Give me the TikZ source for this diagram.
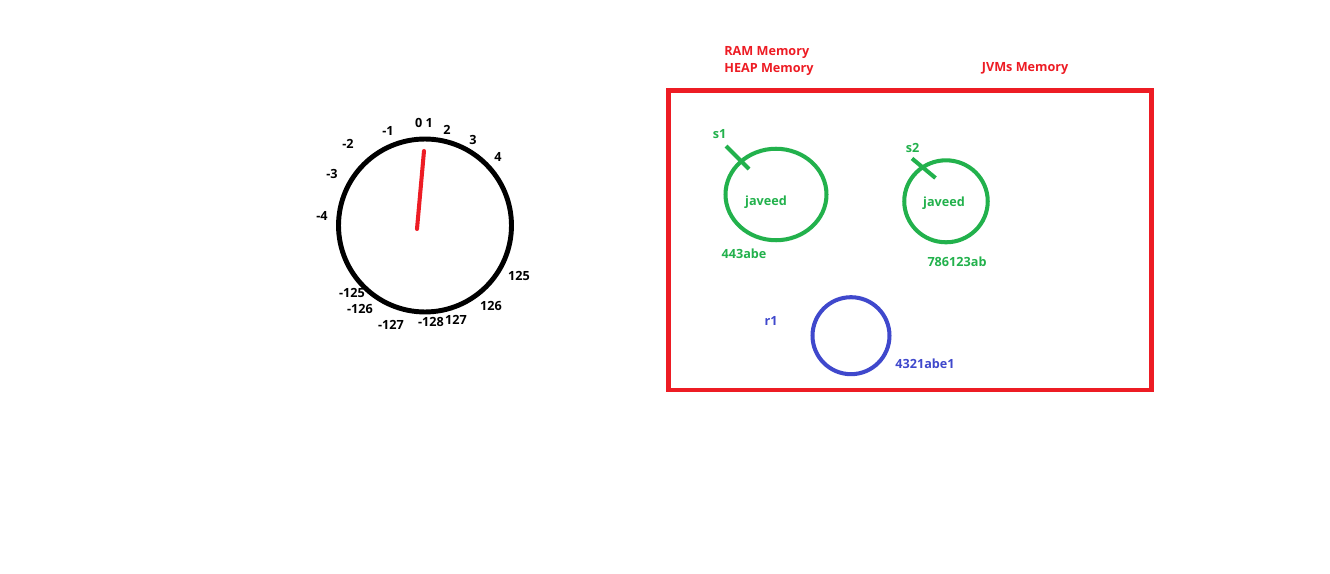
\documentclass[tikz,border=0pt]{standalone}
\usepackage{fontspec}
\setmainfont{Open Sans}
\usetikzlibrary{positioning, shapes.geometric}
\definecolor{paintred}{HTML}{ED1C24}
\definecolor{paintgreen}{HTML}{22B14C}
\definecolor{paintblue}{HTML}{3F48CC}
\tikzset{
    lbl/.style={font=\fontsize{7.2}{9}\selectfont\bfseries, inner sep=0pt},
    dialnum/.style={lbl, text=black},
    redlbl/.style={lbl, text=paintred, anchor=west},
    greenlbl/.style={lbl, text=paintgreen},
    bluelbl/.style={lbl, text=paintblue},
    dialring/.style={circle, draw=black, line width=2.8pt, inner sep=0pt, minimum size=3.46cm},
    heapobj/.style={ellipse, draw=#1, line width=2.3pt, inner sep=0pt},
    refmark/.style={line width=2.3pt, draw=paintgreen},
    needle/.style={line width=2.3pt, draw=paintred, line cap=round}
}

\begin{document}
\begin{tikzpicture}[x=0.02cm, y=-0.02cm]
    \useasboundingbox (0,0) rectangle (1330,574);

    % byte dial
    \node[dialnum] (n0) at (424,123) {0 1};
    \node[dialnum] (nm1) at (388,131) {-1};
    \node[dialnum] (nm2) at (348,144) {-2};
    \node[dialnum] (nm3) at (332,174) {-3};
    \node[dialnum] (nm4) at (322,216) {-4};
    \node[dialnum] (n2) at (447,130) {2};
    \node[dialnum] (n3) at (473,140) {3};
    \node[dialnum] (n4) at (498,157) {4};
    \node[dialnum] (n125) at (519,276) {125};
    \node[dialnum] (n126) at (491,306) {126};
    \node[dialnum] (n127) at (456,320) {127};
    \node[dialnum] (nm128) at (431,322) {-128};
    \node[dialnum] (nm127) at (391,325) {-127};
    \node[dialnum] (nm126) at (360,309) {-126};
    \node[dialnum] (nm125) at (352,293) {-125};
    \node[dialring] (dial) at (425,225.5) {};
    \coordinate (hub) at (417,229);
    \coordinate (tip) at (424,151);
    \draw[needle] (hub) -- (tip);

    % heap
    \node[redlbl] (ram) at (724,52) {RAM Memory};
    \node[redlbl] (heap) at (724,69.5) {HEAP Memory};
    \node[redlbl] (jvms) at (981.5,69) {JVMs Memory};
    \node[draw=paintred, line width=2.7pt, inner sep=0pt, minimum width=9.66cm, minimum height=5.99cm] (jvm) at (910,240.25) {};

    \node[heapobj=paintgreen, minimum width=2.02cm, minimum height=1.83cm] (obj1) at (776,194.5) {};
    \node[greenlbl] (val1) at (766,202.5) {javeed};
    \node[greenlbl] (addr1) at (744,253.5) {443abe};
    \node[greenlbl] (s1) at (719.5,134) {s1};
    \coordinate (s1a) at (726,146);
    \coordinate (s1b) at (749,169);
    \draw[refmark] (s1a) -- (s1b);

    \node[heapobj=paintgreen, minimum width=1.67cm, minimum height=1.64cm] (obj2) at (946,201.3) {};
    \node[greenlbl] (val2) at (944,203.5) {javeed};
    \node[greenlbl] (addr2) at (957,261.5) {786123ab};
    \node[greenlbl] (s2) at (912.5,147.5) {s2};
    \coordinate (s2a) at (912,158.5);
    \coordinate (s2b) at (935.5,178);
    \draw[refmark] (s2a) -- (s2b);

    \node[heapobj=paintblue, minimum width=1.54cm, minimum height=1.54cm] (obj3) at (851,335.7) {};
    \node[bluelbl] (r1) at (771,321) {r1};
    \node[bluelbl] (addr3) at (925,363.5) {4321abe1};
\end{tikzpicture}
\end{document}
